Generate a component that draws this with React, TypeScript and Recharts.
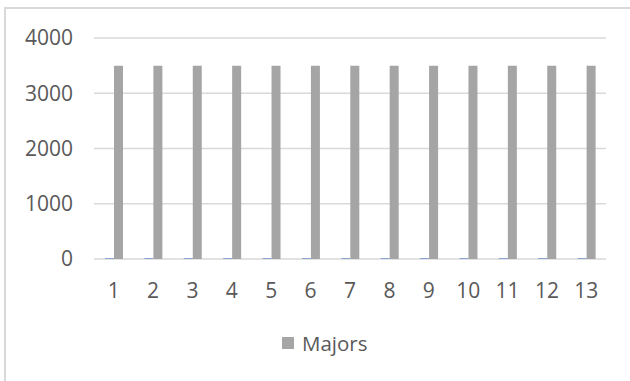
import React from "react";
import { BarChart, Bar, XAxis, YAxis, CartesianGrid, Legend } from "recharts";

const categories = ["1", "2", "3", "4", "5", "6", "7", "8", "9", "10", "11", "12", "13"];
const minors = [10, 10, 10, 10, 10, 10, 10, 10, 10, 10, 10, 10, 10];
const majors = [3500, 3500, 3500, 3500, 3500, 3500, 3500, 3500, 3500, 3500, 3500, 3500, 3500];
const yTicks = [0, 1000, 2000, 3000, 4000];

const data = categories.map((name, i) => ({ name, minors: minors[i], majors: majors[i] }));

const FONT = "'Open Sans', sans-serif";
const TEXT = "#595959";

const renderLegend = () => (
  <div
    style={{
      display: "flex",
      alignItems: "center",
      height: 20,
      fontFamily: FONT,
      fontSize: 20.5,
      color: TEXT,
      whiteSpace: "nowrap",
    }}
  >
    <span style={{ width: 12, height: 12, background: "#A5A5A5", display: "inline-block", marginRight: 8 }} />
    <span>Majors</span>
  </div>
);

export default function App() {
  return (
    <div style={{ position: "relative", width: 630, height: 381, overflow: "hidden", background: "#fff" }}>
      <style>{`body{margin:0}`}</style>
      <div
        style={{
          position: "absolute",
          left: 4,
          top: 7,
          width: 660,
          height: 420,
          border: "2px solid #D9D9D9",
          boxSizing: "border-box",
        }}
      />
      <div style={{ position: "absolute", left: 0, top: 0 }}>
        <BarChart
          width={630}
          height={381}
          data={data}
          margin={{ top: 38, right: 24, left: 0, bottom: 62 }}
          barGap={0}
        >
          <CartesianGrid vertical={false} stroke="#D9D9D9" strokeWidth={1.5} />
          <XAxis
            dataKey="name"
            axisLine={false}
            tickLine={false}
            tickSize={0}
            tickMargin={24}
            height={40}
            tick={{ fontSize: 21, fill: TEXT, fontFamily: FONT }}
          />
          <YAxis
            domain={[0, 4000]}
            ticks={yTicks}
            axisLine={false}
            tickLine={false}
            tickSize={0}
            tickMargin={21}
            width={94}
            tick={{ fontSize: 21, fill: TEXT, fontFamily: FONT }}
          />
          <Legend
            content={renderLegend}
            wrapperStyle={{ position: "absolute", top: 333, left: 282, width: 200, height: 20 }}
          />
          <Bar dataKey="minors" fill="#4472C4" barSize={9} legendType="none" isAnimationActive={false} />
          <Bar dataKey="majors" name="Majors" fill="#A5A5A5" barSize={9} isAnimationActive={false} />
        </BarChart>
      </div>
    </div>
  );
}
